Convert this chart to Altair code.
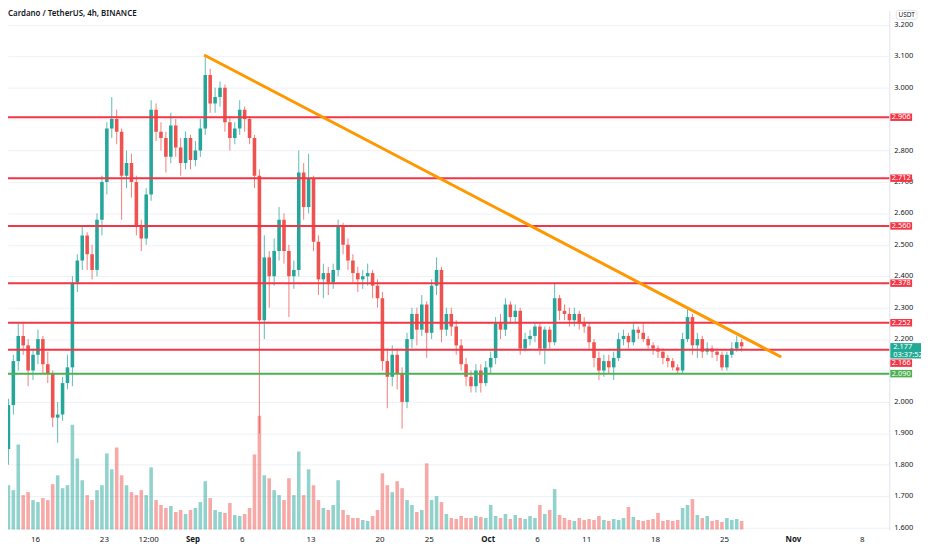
import altair as alt
import pandas as pd

# ---------------- data ----------------
TITLE = "Cardano / TetherUS, 4h, BINANCE"
QUOTE = "USDT"
# time: days after 2021-08-01 00:00; one 12h candle per entry, centred
first_day = 12.25
step_days = 0.5
first_open = 1.85
closes = [
    1.99, 2.13, 2.21, 2.18, 2.10, 2.15, 2.20, 2.12, 2.09, 1.95,
    1.96, 2.06, 2.11, 2.38, 2.45, 2.53, 2.47, 2.42, 2.58, 2.70,
    2.87, 2.90, 2.86, 2.72, 2.76, 2.70, 2.56, 2.52, 2.66, 2.93,
    2.86, 2.84, 2.78, 2.88, 2.81, 2.76, 2.84, 2.77, 2.80, 2.87,
    3.04, 2.95, 2.97, 3.00, 2.89, 2.84, 2.87, 2.93, 2.90, 2.84,
    2.72, 2.26, 2.46, 2.40, 2.48, 2.58, 2.48, 2.40, 2.42, 2.73,
    2.62, 2.71, 2.51, 2.39, 2.41, 2.38, 2.42, 2.56, 2.50, 2.45,
    2.41, 2.39, 2.40, 2.41, 2.37, 2.33, 2.13, 2.08, 2.15, 2.09,
    2.00, 2.20, 2.28, 2.23, 2.31, 2.22, 2.37, 2.42, 2.23, 2.28,
    2.24, 2.18, 2.12, 2.08, 2.05, 2.10, 2.06, 2.11, 2.14, 2.25,
    2.23, 2.31, 2.27, 2.29, 2.17, 2.20, 2.21, 2.24, 2.17, 2.23,
    2.19, 2.33, 2.29, 2.28, 2.26, 2.28, 2.25, 2.24, 2.19, 2.14,
    2.10, 2.13, 2.11, 2.14, 2.20, 2.21, 2.19, 2.23, 2.22, 2.20,
    2.18, 2.17, 2.16, 2.14, 2.13, 2.11, 2.10, 2.20, 2.27, 2.18,
    2.20, 2.16, 2.17, 2.16, 2.15, 2.11, 2.15, 2.17, 2.19, 2.177,
]
highs = [
    2.01, 2.15, 2.25, 2.25, 2.20, 2.17, 2.23, 2.21, 2.16, 2.10,
    2.00, 2.08, 2.15, 2.40, 2.47, 2.56, 2.54, 2.50, 2.60, 2.72,
    2.89, 2.97, 2.93, 2.87, 2.80, 2.79, 2.72, 2.58, 2.68, 2.96,
    2.95, 2.89, 2.86, 2.92, 2.90, 2.84, 2.86, 2.85, 2.83, 2.90,
    3.104, 3.06, 3.00, 3.02, 3.01, 2.91, 2.89, 2.96, 2.94, 2.91,
    2.85, 2.74, 2.53, 2.48, 2.52, 2.62, 2.60, 2.50, 2.45, 2.80,
    2.76, 2.79, 2.72, 2.53, 2.44, 2.43, 2.44, 2.58, 2.57, 2.52,
    2.47, 2.43, 2.42, 2.44, 2.42, 2.39, 2.35, 2.17, 2.18, 2.17,
    2.11, 2.22, 2.30, 2.30, 2.34, 2.32, 2.39, 2.46, 2.43, 2.30,
    2.30, 2.26, 2.20, 2.14, 2.10, 2.12, 2.12, 2.13, 2.16, 2.27,
    2.28, 2.33, 2.32, 2.31, 2.30, 2.22, 2.23, 2.25, 2.25, 2.24,
    2.24, 2.38, 2.34, 2.31, 2.30, 2.30, 2.29, 2.27, 2.25, 2.20,
    2.16, 2.15, 2.15, 2.16, 2.22, 2.23, 2.22, 2.25, 2.24, 2.25,
    2.21, 2.19, 2.18, 2.17, 2.15, 2.14, 2.12, 2.22, 2.30, 2.28,
    2.22, 2.21, 2.19, 2.18, 2.17, 2.16, 2.16, 2.19, 2.21, 2.20,
]
lows = [
    1.80, 1.96, 2.10, 2.15, 2.05, 2.07, 2.12, 2.09, 2.06, 1.92,
    1.87, 1.94, 2.04, 2.05, 2.35, 2.42, 2.42, 2.39, 2.40, 2.53,
    2.66, 2.84, 2.82, 2.58, 2.68, 2.65, 2.53, 2.48, 2.50, 2.64,
    2.83, 2.80, 2.73, 2.76, 2.78, 2.72, 2.74, 2.74, 2.75, 2.78,
    2.85, 2.92, 2.92, 2.94, 2.86, 2.80, 2.82, 2.85, 2.86, 2.82,
    2.68, 1.90, 2.20, 2.30, 2.37, 2.45, 2.44, 2.27, 2.36, 2.40,
    2.58, 2.60, 2.48, 2.34, 2.33, 2.34, 2.36, 2.40, 2.47, 2.42,
    2.38, 2.35, 2.36, 2.37, 2.33, 2.30, 2.10, 1.98, 2.05, 2.04,
    1.915, 1.98, 2.17, 2.18, 2.21, 2.14, 2.20, 2.34, 2.19, 2.21,
    2.21, 2.15, 2.10, 2.05, 2.03, 2.03, 2.03, 2.05, 2.09, 2.12,
    2.20, 2.21, 2.25, 2.25, 2.15, 2.16, 2.18, 2.19, 2.15, 2.12,
    2.17, 2.18, 2.26, 2.26, 2.24, 2.24, 2.23, 2.22, 2.17, 2.11,
    2.07, 2.08, 2.09, 2.07, 2.13, 2.18, 2.17, 2.18, 2.20, 2.19,
    2.17, 2.15, 2.14, 2.12, 2.11, 2.10, 2.09, 2.09, 2.19, 2.15,
    2.14, 2.14, 2.15, 2.14, 2.13, 2.10, 2.10, 2.14, 2.16, 2.16,
]
volumes = [
    45, 40, 86, 35, 38, 30, 28, 32, 30, 46,
    55, 42, 45, 106, 72, 50, 35, 30, 40, 45,
    77, 61, 83, 55, 45, 38, 35, 40, 35, 63,
    30, 25, 22, 24, 18, 20, 16, 20, 22, 28,
    49, 32, 20, 18, 17, 27, 15, 14, 16, 22,
    76, 115, 55, 52, 40, 35, 30, 52, 35, 79,
    35, 61, 45, 30, 22, 20, 25, 50, 20, 15,
    12, 12, 10, 9, 14, 20, 57, 45, 38, 49,
    42, 30, 25, 18, 20, 67, 30, 34, 28, 16,
    12, 11, 14, 12, 12, 14, 13, 12, 25, 14,
    12, 16, 11, 15, 12, 11, 14, 12, 25, 16,
    20, 41, 15, 12, 10, 9, 12, 10, 11, 10,
    14, 10, 9, 11, 10, 12, 23, 13, 10, 9,
    10, 11, 17, 9, 10, 9, 10, 22, 25, 31,
    15, 12, 14, 9, 10, 8, 12, 10, 11, 9,
]

tick_days = [15, 22, 26.5, 31, 36, 43, 50, 55, 61, 66, 71, 78, 85, 92, 99]
tick_labels = ["16", "23", "12:00", "Sep", "6", "13", "20", "25",
               "Oct", "6", "11", "18", "25", "Nov", "8"]
month_ticks = [31, 61, 92]
price_ticks = [1.6, 1.7, 1.8, 1.9, 2.0, 2.1, 2.2, 2.3, 2.4, 2.5,
               2.6, 2.7, 2.8, 2.9, 3.0, 3.1, 3.2]
# 2.900 and 2.100 are hidden behind the level tags in the reference
price_labels = [1.6, 1.7, 1.8, 1.9, 2.0, 2.2, 2.3, 2.4, 2.5,
                2.6, 2.7, 2.8, 3.0, 3.1, 3.2]

red_levels = [2.906, 2.712, 2.560, 2.378, 2.252, 2.166]
green_levels = [2.090]
trend_days = [32.13, 90.77]
trend_prices = [3.104, 2.143]
last_price = 2.177
countdown = "03:37:52"

# ---------------- styles ----------------
W, H = 889, 524
UP, DOWN = "#26a69a", "#ef5350"
RED, GREEN, ORANGE, LAST = "#f23645", "#4caf50", "#ff9800", "#22ab94"
GRID, AXIS, TXT = "#eef1f6", "#e0e3eb", "#131722"
FONT = "Noto Sans"
TAG_SHIFT = {2.166: 13.5}

n = len(closes)
days = [first_day + step_days * i for i in range(n)]
opens = [first_open] + closes[:-1]
df = pd.DataFrame({"day": days, "open": opens, "close": closes,
                   "high": highs, "low": lows, "vol": volumes})
df["dir"] = ["up" if c >= o else "down" for o, c in zip(opens, closes)]

x_scale = alt.Scale(domain=[12.71, 101.25], nice=False, zero=False)
p_scale = alt.Scale(domain=[1.5931, 3.2461], nice=False, zero=False)
v_scale = alt.Scale(domain=[0, 524], nice=False, zero=True)
color_enc = alt.Color("dir:N", scale=alt.Scale(domain=["up", "down"], range=[UP, DOWN]), legend=None)

x_axis = alt.Axis(orient="bottom", values=tick_days, labels=False, title=None, grid=True,
                  gridColor=GRID, gridWidth=1, ticks=False, domain=True, domainColor=AXIS)
y_axis = alt.Axis(orient="right", values=price_ticks, labels=False, title=None, grid=True,
                  gridColor=GRID, gridWidth=1, ticks=False, domain=True, domainColor=AXIS)

def py(field="price"):
    return alt.Y(f"{field}:Q", scale=p_scale, axis=None)

def px(field="day"):
    return alt.X(f"{field}:Q", scale=x_scale, axis=None)

volume = alt.Chart(df).mark_bar(size=3.6, opacity=0.5, clip=True).encode(
    x=alt.X("day:Q", scale=x_scale, axis=x_axis),
    y=alt.Y("vol:Q", scale=v_scale, axis=None),
    color=color_enc,
)
wicks = alt.Chart(df).mark_rule(strokeWidth=1, opacity=0.75, clip=True).encode(
    x=px(), y=alt.Y("low:Q", scale=p_scale, axis=y_axis), y2="high:Q", color=color_enc)
bodies = alt.Chart(df).mark_bar(size=3.6, clip=True).encode(
    x=px(), y=py("open"), y2="close:Q", color=color_enc)

red_lines = alt.Chart(pd.DataFrame({"price": red_levels})).mark_rule(color=RED, strokeWidth=2).encode(y=py())
green_lines = alt.Chart(pd.DataFrame({"price": green_levels})).mark_rule(color=GREEN, strokeWidth=2).encode(y=py())

trend = alt.Chart(pd.DataFrame({"day": trend_days, "price": trend_prices})).mark_line(
    color=ORANGE, strokeWidth=3, clip=True).encode(x=px(), y=py())

# time-axis labels (month names bold)
tick_df = pd.DataFrame({"day": tick_days, "label": tick_labels})
tick_df["month"] = [d in month_ticks for d in tick_days]
x_labels = alt.Chart(tick_df[~tick_df["month"]]).mark_text(
    fontSize=8, color=TXT, font=FONT, baseline="middle", align="center").encode(
    x=px(), y=alt.value(H + 10), text="label:N")
x_months = alt.Chart(tick_df[tick_df["month"]]).mark_text(
    fontSize=8, color=TXT, font=FONT, fontWeight="bold", baseline="middle", align="center").encode(
    x=px(), y=alt.value(H + 10), text="label:N")

# price-axis labels
y_labels = alt.Chart(pd.DataFrame({"price": price_labels})).mark_text(
    fontSize=7.5, color=TXT, font=FONT, baseline="middle", align="left").encode(
    x=alt.value(W + 5), y=py(), text=alt.Text("price:Q", format=".3f"))

layers = [volume, wicks, bodies, red_lines, green_lines, trend, x_labels, x_months, y_labels]
for levels, col in ((red_levels, RED), (green_levels, GREEN)):
    for p in levels:
        shift = TAG_SHIFT.get(p, 0)
        d = pd.DataFrame({"price": [p]})
        layers.append(alt.Chart(d).mark_rule(color=col, strokeWidth=7.5, yOffset=shift).encode(
            x=alt.value(W + 1), x2=alt.value(W + 23), y=py()))
        layers.append(alt.Chart(d).mark_text(color="white", fontSize=7.5, font=FONT, dy=shift,
                                             align="center", baseline="middle").encode(
            x=alt.value(W + 12), y=py(), text=alt.Text("price:Q", format=".3f")))

last_df = pd.DataFrame({"price": [last_price], "cd": [countdown]})
layers.append(alt.Chart(last_df).mark_rule(color=LAST, strokeWidth=15.5, yOffset=4.5).encode(
    x=alt.value(W + 1), x2=alt.value(W + 32), y=py()))
layers.append(alt.Chart(last_df).mark_text(color="white", fontSize=7.5, font=FONT, dy=0.5,
                                           align="left", baseline="middle").encode(
    x=alt.value(W + 4), y=py(), text=alt.Text("price:Q", format=".3f")))
layers.append(alt.Chart(last_df).mark_text(color="white", fontSize=7.5, font=FONT, dy=8.5,
                                           align="left", baseline="middle").encode(
    x=alt.value(W + 4), y=py(), text="cd:N"))

title_df = pd.DataFrame({"t": [TITLE]})
layers.append(alt.Chart(title_df).mark_text(align="left", baseline="top", fontSize=8,
                                            fontWeight=600, color=TXT, font=FONT).encode(
    x=alt.value(0), y=alt.value(0), text="t:N"))

quote_df = pd.DataFrame({"q": [QUOTE]})
layers.append(alt.Chart(quote_df).mark_rect(fill="white", stroke=AXIS, strokeWidth=1, cornerRadius=2).encode(
    x=alt.value(W + 7), x2=alt.value(W + 28), y=alt.value(0), y2=alt.value(9)))
layers.append(alt.Chart(quote_df).mark_text(fontSize=6.5, color=TXT, font=FONT, align="center",
                                            baseline="middle").encode(
    x=alt.value(W + 17.5), y=alt.value(4.8), text="q:N"))

chart = alt.layer(*layers).resolve_scale(y="independent").properties(
    width=W, height=H,
    autosize=alt.AutoSizeParams(type="none"),
    padding={"left": 0, "top": 0, "right": 35, "bottom": 18},
    background="white",
).configure(font=FONT).configure_view(strokeWidth=0, stroke=None)

chart.save("out.html", embed_options={"renderer": "svg", "actions": False})
